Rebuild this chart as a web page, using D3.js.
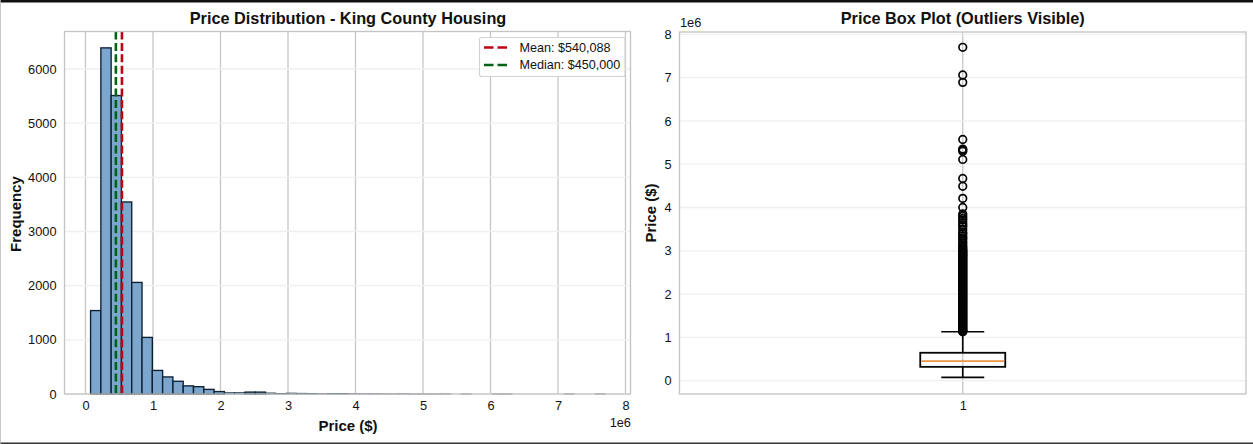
<!DOCTYPE html>
<html><head><meta charset="utf-8">
<style>html,body{margin:0;padding:0;background:#fff;overflow:hidden}svg{display:block}text{font-family:"Liberation Sans",Arial,sans-serif;fill:#111}</style>
<script src="https://cdnjs.cloudflare.com/ajax/libs/d3/7.8.5/d3.min.js"></script>
</head><body><div id="c"></div>
<script>
const binStart = 75000, binWidth = 152500;
const counts = [1540,6390,5510,3545,2060,1045,435,315,235,150,135,85,45,25,30,35,35,20,12,18,15,10,5,8,6,4,3,4,2,2,3,1,1,1,2,0,1,0,0,1,1,0,0,0,0,0,1,0,0,1];
const meanPrice = 540088, medianPrice = 450000;
const histXTicks = [0,1,2,3,4,5,6,7,8];
const histYTicks = [0,1000,2000,3000,4000,5000,6000];
const boxYTicks = [0,1,2,3,4,5,6,7,8];
const boxStats = {low:0.078, q1:0.32, med:0.45, q3:0.645, high:1.13};
const outliers = [7.7,7.06,6.89,5.57,5.35,5.33,5.30,5.11,4.67,4.49,4.21,4.00,3.85,3.80,3.75,3.71,3.65,3.60,3.56,3.50,3.43,3.40,3.35,3.30,3.27,3.22,3.18,3.14,3.10,3.07,3.04,3.02,3.00,2.98,2.96,2.94,2.92,2.90,2.88,2.86,2.84,2.82,2.80,2.78,2.76,2.74,2.72,2.70,2.68,2.66,2.64,2.62,2.60,2.58,2.56,2.54,2.52,2.50,2.48,2.46,2.44,2.42,2.40,2.38,2.36,2.34,2.32,2.30,2.28,2.26,2.24,2.22,2.20,2.18,2.16,2.14,2.12,2.10,2.08,2.06,2.04,2.02,2.00,1.98,1.96,1.94,1.92,1.90,1.88,1.86,1.84,1.82,1.80,1.78,1.76,1.74,1.72,1.70,1.68,1.66,1.64,1.62,1.60,1.58,1.56,1.54,1.52,1.50,1.48,1.46,1.44,1.42,1.40,1.38,1.36,1.34,1.32,1.30,1.28,1.26,1.24,1.22,1.20,1.18,1.16,1.15,1.14,1.13];

const W=1253,H=444;
const svg=d3.select("#c").append("svg").attr("width",W).attr("height",H);
svg.append("rect").attr("width",W).attr("height",2.5).attr("fill","#111");
svg.append("rect").attr("y",442.5).attr("width",W).attr("height",1.5).attr("fill","#333");
svg.append("rect").attr("width",0.8).attr("height",H).attr("fill","#bbb");

const spine="#c4c4c4", gridH="#efefef", gridV="#c6c6c6";
const tickSize=12.8, labelSize=15, titleSize=16.3;
function styleAxis(g){
  g.select(".domain").remove();
  g.selectAll(".tick line").remove();
  g.selectAll("text").attr("font-size",tickSize).attr("fill","#0a0a0a");
}
// LEFT
const L={l:64.5,r:630.5,t:31.5,b:394};
const x=d3.scaleLinear().domain([0,8]).range([85.5,625.5]);
const y=d3.scaleLinear().domain([0,6000]).range([394,69]);
const gl=svg.append("g");
gl.selectAll(".gv").data(histXTicks).join("line").attr("x1",d=>x(d)).attr("x2",d=>x(d)).attr("y1",L.t).attr("y2",L.b).attr("stroke",gridV).attr("stroke-width",1.3);
gl.selectAll(".gh").data(histYTicks).join("line").attr("x1",L.l).attr("x2",L.r).attr("y1",d=>y(d)).attr("y2",d=>y(d)).attr("stroke",gridH).attr("stroke-width",1.3);
gl.selectAll(".bar").data(counts).join("rect")
  .attr("x",(d,i)=>x((binStart+i*binWidth)/1e6))
  .attr("width",x(binWidth/1e6)-x(0))
  .attr("y",d=>y(d)).attr("height",d=>394-y(d))
  .attr("fill","#7ca6cd").attr("stroke","#0b2033").attr("stroke-width",d=>d>30?1.35:0.6);
gl.append("line").attr("x1",x(meanPrice/1e6)).attr("x2",x(meanPrice/1e6)).attr("y1",L.t).attr("y2",L.b).attr("stroke","#c00014").attr("stroke-width",2.6).attr("stroke-dasharray","8,3.4");
gl.append("line").attr("x1",x(medianPrice/1e6)).attr("x2",x(medianPrice/1e6)).attr("y1",L.t).attr("y2",L.b).attr("stroke","#006414").attr("stroke-width",2.6).attr("stroke-dasharray","8,3.4");
gl.append("rect").attr("x",L.l).attr("y",L.t).attr("width",L.r-L.l).attr("height",L.b-L.t).attr("fill","none").attr("stroke",spine).attr("stroke-width",1.3);
svg.append("g").attr("transform",`translate(0,${L.b})`).call(d3.axisBottom(x).tickValues(histXTicks).tickFormat(d3.format("d")).tickSize(0).tickPadding(7)).call(styleAxis);
svg.append("g").attr("transform",`translate(${L.l},0)`).call(d3.axisLeft(y).tickValues(histYTicks).tickFormat(d3.format("d")).tickSize(0).tickPadding(8)).call(styleAxis);
svg.append("text").attr("x",348).attr("y",23.5).attr("text-anchor","middle").attr("font-size",titleSize).attr("font-weight","bold").text("Price Distribution - King County Housing");
svg.append("text").attr("x",348).attr("y",431).attr("text-anchor","middle").attr("font-size",labelSize).attr("font-weight","bold").text("Price ($)");
svg.append("text").attr("transform","translate(21,214) rotate(-90)").attr("text-anchor","middle").attr("font-size",labelSize).attr("font-weight","bold").text("Frequency");
svg.append("text").attr("x",631).attr("y",427).attr("text-anchor","end").attr("font-size",tickSize).text("1e6");
// legend
const lg=svg.append("g");
lg.append("rect").attr("x",479.5).attr("y",37.5).attr("width",145.5).attr("height",39).attr("rx",2).attr("fill","#fff").attr("stroke","#d2d2d2").attr("stroke-width",1.2);
[["Mean: $540,088","#c00014",47.5],["Median: $450,000","#006414",65]].forEach(([t,c,yy])=>{
  lg.append("line").attr("x1",484).attr("x2",507).attr("y1",yy).attr("y2",yy).attr("stroke",c).attr("stroke-width",2.6).attr("stroke-dasharray","9.5,4");
  lg.append("text").attr("x",519.5).attr("y",yy+4.3).attr("font-size",12.6).text(t);
});
// RIGHT
const R={l:679.5,r:1246,t:32,b:394};
const xc=d3.scalePoint().domain([1]).range([R.l,R.r]).padding(0.5);
const cx=xc(1);
const yr=d3.scaleLinear().domain([0,8]).range([380.7,34.3]);
const gr=svg.append("g");
gr.append("line").attr("x1",cx).attr("x2",cx).attr("y1",R.t).attr("y2",R.b).attr("stroke",gridV).attr("stroke-width",1.3);
gr.selectAll(".gh").data(boxYTicks).join("line").attr("x1",R.l).attr("x2",R.r).attr("y1",d=>yr(d)).attr("y2",d=>yr(d)).attr("stroke",gridH).attr("stroke-width",1.3);
gr.append("rect").attr("x",R.l).attr("y",R.t).attr("width",R.r-R.l).attr("height",R.b-R.t).attr("fill","none").attr("stroke",spine).attr("stroke-width",1.3);
const bw=85, capw=43;
const blk="#050505";
[[boxStats.low,boxStats.q1],[boxStats.q3,boxStats.high]].forEach(([a,b])=>gr.append("line").attr("x1",cx).attr("x2",cx).attr("y1",yr(a)).attr("y2",yr(b)).attr("stroke",blk).attr("stroke-width",1.7));
[boxStats.low,boxStats.high].forEach(v=>gr.append("line").attr("x1",cx-capw/2).attr("x2",cx+capw/2).attr("y1",yr(v)).attr("y2",yr(v)).attr("stroke",blk).attr("stroke-width",1.7));
gr.append("rect").attr("x",cx-bw/2).attr("width",bw).attr("y",yr(boxStats.q3)).attr("height",yr(boxStats.q1)-yr(boxStats.q3)).attr("fill","none").attr("stroke",blk).attr("stroke-width",1.8);
gr.append("line").attr("x1",cx-bw/2+1).attr("x2",cx+bw/2-1).attr("y1",yr(boxStats.med)).attr("y2",yr(boxStats.med)).attr("stroke","#e8954a").attr("stroke-width",1.8);
gr.selectAll(".fl").data(outliers).join("circle").attr("cx",cx).attr("cy",d=>yr(d)).attr("r",3.8).attr("fill","none").attr("stroke",blk).attr("stroke-width",1.7);
svg.append("g").attr("transform",`translate(0,${R.b})`).call(d3.axisBottom(xc).tickFormat(d3.format("d")).tickSize(0).tickPadding(7)).call(styleAxis);
svg.append("g").attr("transform",`translate(${R.l},0)`).call(d3.axisLeft(yr).tickValues(boxYTicks).tickFormat(d3.format("d")).tickSize(0).tickPadding(8)).call(styleAxis);
svg.append("text").attr("x",cx).attr("y",24).attr("text-anchor","middle").attr("font-size",titleSize).attr("font-weight","bold").text("Price Box Plot (Outliers Visible)");
svg.append("text").attr("transform","translate(656,213) rotate(-90)").attr("text-anchor","middle").attr("font-size",labelSize).attr("font-weight","bold").text("Price ($)");
svg.append("text").attr("x",680).attr("y",27).attr("font-size",tickSize).text("1e6");
</script></body></html>
